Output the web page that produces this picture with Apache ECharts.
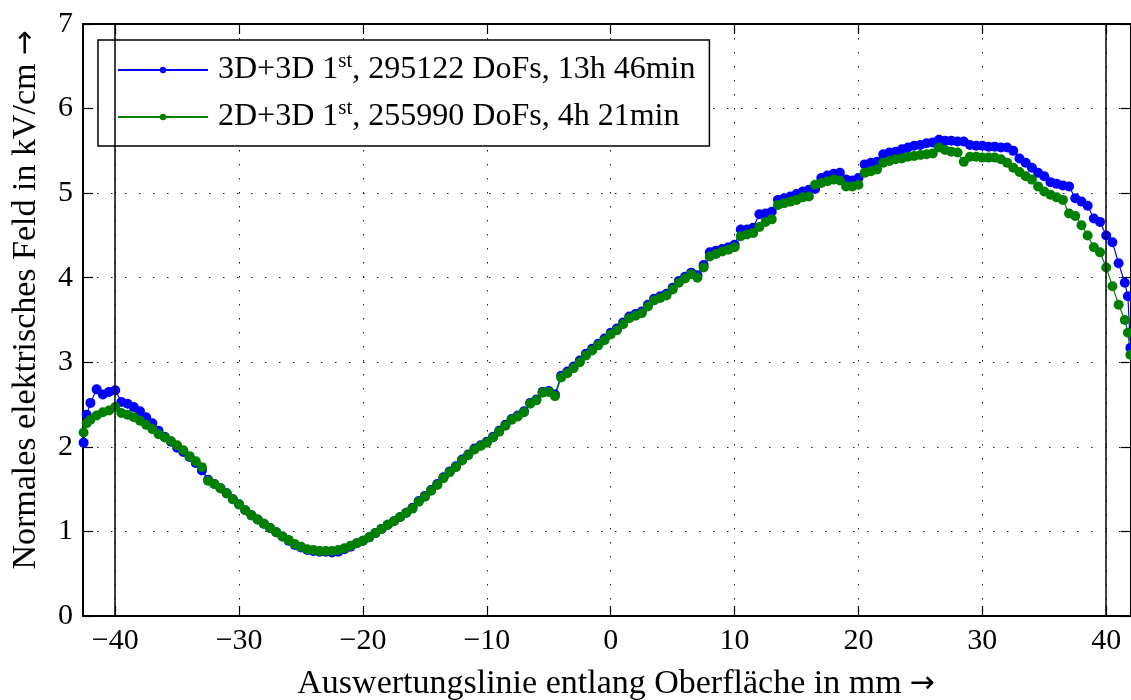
<!DOCTYPE html>
<html><head><meta charset="utf-8">
<script src="https://cdn.jsdelivr.net/npm/echarts@6/dist/echarts.min.js"></script>
<style>html,body{margin:0;padding:0;background:#fff}#c{width:1131px;height:700px}</style>
</head><body><div id="c"></div>
<script>
const xTicks = [-40,-30,-20,-10,0,10,20,30,40];
const yTicks = [0,1,2,3,4,5,6,7];
const vLines = [-40, 40];
const xTitle = 'Auswertungslinie entlang Oberfläche in mm';
const yTitle = 'Normales elektrisches Feld in kV/cm';
const arrow = '\u2192';
const seriesNames = ['3D+3D 1st, 295122 DoFs, 13h 46min', '2D+3D 1st, 255990 DoFs, 4h 21min'];
const legendParts = [['3D+3D 1','st',', 295122 DoFs, 13h 46min'], ['2D+3D 1','st',', 255990 DoFs, 4h 21min']];

const xs = [-42.55,-42.3,-42,-41.5,-41,-40.5,-40,-39.5,-39,-38.5,-38,-37.5,-37,-36.5,-36,-35.5,-35,-34.5,-34,-33.5,-33,-32.5,-32,-31.5,-31,-30.5,-30,-29.5,-29,-28.5,-28,-27.5,-27,-26.5,-26,-25.5,-25,-24.5,-24,-23.5,-23,-22.5,-22,-21.5,-21,-20.5,-20,-19.5,-19,-18.5,-18,-17.5,-17,-16.5,-16,-15.5,-15,-14.5,-14,-13.5,-13,-12.5,-12,-11.5,-11,-10.5,-10,-9.5,-9,-8.5,-8,-7.5,-7,-6.5,-6,-5.5,-5,-4.5,-4,-3.5,-3,-2.5,-2,-1.5,-1,-0.5,0,0.5,1,1.5,2,2.5,3,3.5,4,4.5,5,5.5,6,6.5,7,7.5,8,8.5,9,9.5,10,10.5,11,11.5,12,12.5,13,13.5,14,14.5,15,15.5,16,16.5,17,17.5,18,18.5,19,19.5,20,20.5,21,21.5,22,22.5,23,23.5,24,24.5,25,25.5,26,26.5,27,27.5,28,28.5,29,29.5,30,30.5,31,31.5,32,32.5,33,33.5,34,34.5,35,35.5,36,36.5,37,37.5,38,38.5,39,39.5,40,40.5,41,41.5,41.75,41.95];

const blue = [2.05,2.38,2.52,2.68,2.62,2.65,2.67,2.53,2.51,2.47,2.42,2.35,2.28,2.19,2.12,2.06,1.99,1.94,1.88,1.81,1.72,1.61,1.56,1.51,1.45,1.38,1.32,1.25,1.19,1.14,1.09,1.04,0.99,0.94,0.89,0.84,0.81,0.78,0.77,0.76,0.76,0.75,0.76,0.79,0.82,0.86,0.89,0.93,0.98,1.03,1.08,1.12,1.17,1.22,1.28,1.36,1.42,1.49,1.56,1.64,1.71,1.77,1.85,1.91,1.98,2.02,2.06,2.12,2.19,2.26,2.33,2.37,2.42,2.52,2.56,2.65,2.66,2.62,2.84,2.89,2.95,3.02,3.10,3.16,3.22,3.28,3.35,3.40,3.47,3.54,3.57,3.60,3.68,3.75,3.78,3.81,3.88,3.96,4.01,4.06,4.03,4.15,4.30,4.32,4.34,4.36,4.39,4.57,4.57,4.59,4.75,4.76,4.78,4.92,4.94,4.96,4.99,5.02,5.04,5.05,5.18,5.21,5.23,5.24,5.16,5.15,5.18,5.34,5.36,5.37,5.46,5.48,5.49,5.52,5.54,5.56,5.57,5.59,5.60,5.63,5.62,5.62,5.61,5.61,5.57,5.56,5.56,5.55,5.55,5.54,5.54,5.50,5.41,5.36,5.30,5.24,5.20,5.13,5.11,5.09,5.08,4.94,4.90,4.85,4.70,4.66,4.50,4.42,4.17,3.94,3.78,3.17];

const green = [2.17,2.28,2.32,2.37,2.41,2.43,2.47,2.40,2.38,2.35,2.31,2.26,2.21,2.15,2.11,2.07,2.02,1.96,1.89,1.83,1.76,1.60,1.56,1.51,1.45,1.38,1.32,1.25,1.19,1.14,1.09,1.04,0.99,0.94,0.90,0.85,0.82,0.79,0.78,0.77,0.77,0.77,0.78,0.80,0.83,0.86,0.89,0.93,0.98,1.03,1.08,1.12,1.17,1.22,1.27,1.35,1.41,1.48,1.55,1.63,1.70,1.76,1.84,1.90,1.97,2.01,2.05,2.11,2.18,2.25,2.32,2.36,2.41,2.51,2.55,2.64,2.65,2.60,2.82,2.87,2.93,3.00,3.08,3.14,3.20,3.26,3.33,3.38,3.45,3.52,3.55,3.58,3.66,3.73,3.76,3.79,3.86,3.94,3.99,4.04,4.00,4.12,4.25,4.28,4.31,4.33,4.36,4.49,4.51,4.53,4.60,4.66,4.69,4.86,4.88,4.90,4.92,4.95,4.96,5.10,5.12,5.14,5.16,5.15,5.08,5.08,5.10,5.24,5.26,5.28,5.36,5.38,5.40,5.41,5.43,5.44,5.45,5.46,5.47,5.54,5.51,5.49,5.48,5.37,5.43,5.43,5.42,5.42,5.42,5.40,5.36,5.30,5.25,5.20,5.16,5.08,5.02,4.98,4.95,4.92,4.76,4.73,4.62,4.50,4.36,4.30,4.12,3.90,3.68,3.50,3.35,3.09];

const FONT = '"Liberation Serif", "Times New Roman", serif';
const ARROWFONT = '"DejaVu Sans", sans-serif';
const BLUE = '#0000ff', GREEN = '#008000';
const chart = echarts.init(document.getElementById('c'), null, {renderer: 'canvas'});
const minus = v => v < 0 ? '\u2212' + Math.abs(v) : String(v);
const dotted = {color: '#222', width: 1, type: [1.5, 12.5]};
const titleRich = {
  t: {fontFamily: FONT, fontSize: 34, color: '#000'},
  r: {fontFamily: ARROWFONT, fontSize: 30, color: '#000', padding: [0, 0, 0, 8]}
};

const baseX = {
  type: 'value', min: -42.6, max: 42.0,
  axisLine: {show: true, onZero: false, lineStyle: {color: '#000', width: 2}},
  axisTick: {show: true, inside: true, length: 10, customValues: xTicks, lineStyle: {color: '#000', width: 1.2}},
};
const option = {
  animation: false,
  backgroundColor: '#fff',
  grid: {left: 83, right: 0, top: 24, bottom: 84, containLabel: false},
  xAxis: [
    Object.assign({}, baseX, {
      position: 'bottom',
      axisLabel: {show: true, customValues: xTicks, formatter: minus, margin: 10, color: '#000', fontFamily: FONT, fontSize: 30},
      splitLine: {show: true, lineStyle: dotted}
    }),
    Object.assign({}, baseX, {
      position: 'top',
      axisLabel: {show: false},
      splitLine: {show: false}
    })
  ],
  yAxis: [
    {type: 'value', min: 0, max: 7, interval: 1, position: 'left',
      axisLine: {show: true, onZero: false, lineStyle: {color: '#000', width: 2}},
      axisTick: {show: true, inside: true, length: 10, lineStyle: {color: '#000', width: 1.2}},
      axisLabel: {show: true, margin: 10, color: '#000', fontFamily: FONT, fontSize: 30},
      splitLine: {show: true, lineStyle: dotted}},
    {type: 'value', min: 0, max: 7, interval: 1, position: 'right',
      axisLine: {show: true, onZero: false, lineStyle: {color: '#000', width: 2}},
      axisTick: {show: true, inside: true, length: 10, lineStyle: {color: '#000', width: 1.2}},
      axisLabel: {show: false}, splitLine: {show: false}}
  ],
  legend: {
    show: true, orient: 'vertical', left: 98, top: 40,
    data: seriesNames,
    itemWidth: 90, itemHeight: 8, itemGap: 10,
    padding: [11, 14, 11, 19],
    borderColor: '#000', borderWidth: 1.5, backgroundColor: '#fff',
    textStyle: {
      fontFamily: FONT, fontSize: 32, color: '#000', padding: [0, 0, 0, 5],
      rich: {
        a: {fontFamily: FONT, fontSize: 32, color: '#000', lineHeight: 38},
        s: {fontFamily: FONT, fontSize: 21, color: '#000', verticalAlign: 'top', lineHeight: 38, padding: [0, 0, 16, 0]}
      }
    },
    formatter: function (name) {
      const p = legendParts[seriesNames.indexOf(name)];
      return '{a|' + p[0] + '}{s|' + p[1] + '}{a|' + p[2] + '}';
    }
  },
  graphic: [
    {type: 'text', x: 616, y: 684, style: {text: '{t|' + xTitle + '}{r|' + arrow + '}', rich: titleRich, textAlign: 'center', textVerticalAlign: 'middle'}},
    {type: 'text', x: 26, y: 300, rotation: Math.PI / 2, style: {text: '{t|' + yTitle + '}{r|' + arrow + '}', rich: titleRich, textAlign: 'center', textVerticalAlign: 'middle'}}
  ],
  series: [
    {type: 'line', name: seriesNames[0], xAxisIndex: 0, yAxisIndex: 0,
      data: xs.map((x, i) => [x, blue[i]]),
      symbol: 'circle', symbolSize: 10, showAllSymbol: true,
      lineStyle: {color: BLUE, width: 1.2}, itemStyle: {color: BLUE},
      markLine: {silent: true, symbol: ['none', 'none'], label: {show: false},
        lineStyle: {color: '#000', width: 1.5, type: 'solid'},
        data: vLines.map(v => ({xAxis: v}))}},
    {type: 'line', name: seriesNames[1], xAxisIndex: 0, yAxisIndex: 0,
      data: xs.map((x, i) => [x, green[i]]),
      symbol: 'circle', symbolSize: 10, showAllSymbol: true,
      lineStyle: {color: GREEN, width: 1.2}, itemStyle: {color: GREEN}}
  ]
};
chart.setOption(option);
</script>
</body></html>
